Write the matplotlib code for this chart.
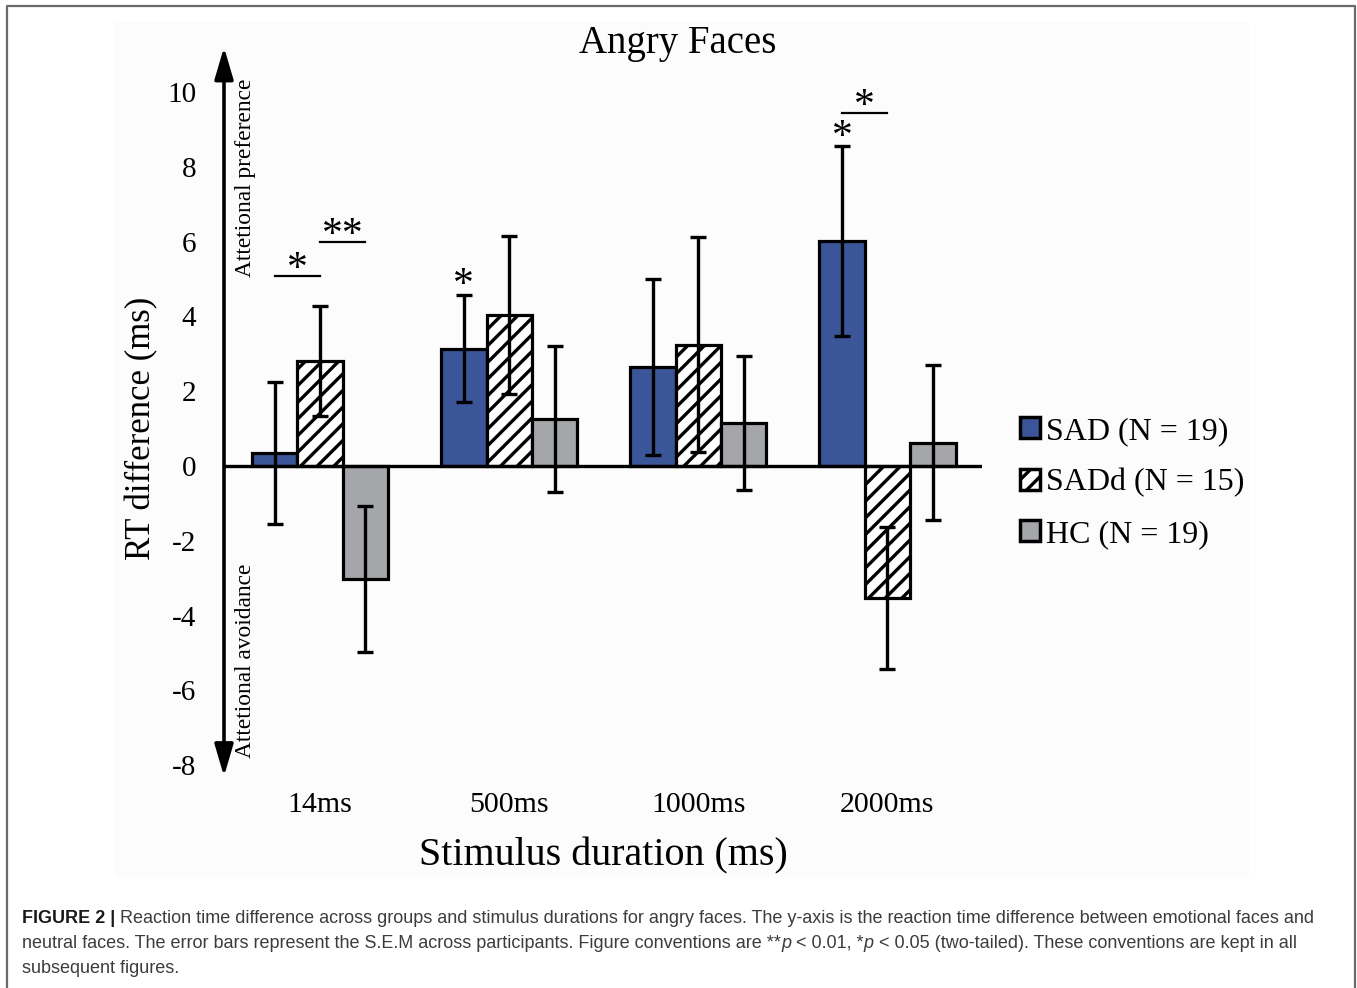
import matplotlib
matplotlib.use("Agg")
import matplotlib.pyplot as plt
from matplotlib.patches import Rectangle, Patch
from matplotlib.lines import Line2D
import numpy as np

# ---------------- data ----------------
durations = ["14ms", "500ms", "1000ms", "2000ms"]
groups = ["SAD (N = 19)", "SADd (N = 15)", "HC (N = 19)"]
sad_mean = [0.35, 3.13, 2.65, 6.02]
sad_sem = [1.90, 1.43, 2.35, 2.54]
sadd_mean = [2.80, 4.04, 3.24, -3.53]
sadd_sem = [1.47, 2.12, 2.87, 1.90]
hc_mean = [-3.02, 1.26, 1.15, 0.62]
hc_sem = [1.95, 1.96, 1.80, 2.07]
yticks = [-8, -6, -4, -2, 0, 2, 4, 6, 8, 10]
# significance brackets: (duration index, bar a, bar b, y level, label)
brackets = [(0, 0, 1, 5.08, "*"), (0, 1, 2, 5.99, "**"), (3, 0, 1, 9.44, "*")]
# single-bar stars: (duration index, bar, y level of star centre, label)
stars = [(1, 0, 5.10, "*"), (3, 0, 9.06, "*")]

caption_lines = [
    [("FIGURE 2 | ", "bold", "normal"),
     ("Reaction time difference across groups and stimulus durations for angry faces. "
      "The y-axis is the reaction time difference between emotional faces and", "normal", "normal")],
    [("neutral faces. The error bars represent the S.E.M across participants. Figure conventions are **", "normal", "normal"),
     ("p", "normal", "italic"), (" < 0.01, *", "normal", "normal"), ("p", "normal", "italic"),
     (" < 0.05 (two-tailed). These conventions are kept in all", "normal", "normal")],
    [("subsequent figures.", "normal", "normal")],
]

# ---------------- style ----------------
W, H = 1357, 988
plt.rcParams["hatch.linewidth"] = 2.4
SERIF = "Liberation Serif"
fig = plt.figure(figsize=(W / 100, H / 100), dpi=100)
fig.patch.set_facecolor("white")

def px(x, y):
    return x / W, 1 - y / H

# panel background
fig.patches.append(Rectangle(px(115, 877), (1249 - 115) / W, (877 - 22) / H,
                             transform=fig.transFigure, facecolor="#fcfcfc",
                             edgecolor="none", zorder=-10))
# outer border (open at bottom)
bx = [7 / W, 7 / W, 1355 / W, 1355 / W]
by = [0, 1 - 6 / H, 1 - 6 / H, 0]
fig.add_artist(Line2D(bx, by, transform=fig.transFigure, color="#6a6a6a", lw=1.6))

ymin, ymax = -8.3, 11.2
xmin, xmax = -0.508, 3.50
UNIT = 37.4
top_px = 466 - ymax * UNIT
bot_px = 466 - ymin * UNIT
ax = fig.add_axes([224 / W, 1 - bot_px / H, (982 - 224) / W, (bot_px - top_px) / H])
ax.patch.set_alpha(0)
for s in ax.spines.values():
    s.set_visible(False)
ax.set_xlim(xmin, xmax)
ax.set_ylim(ymin, ymax)

x = np.arange(len(durations))
bw = 0.24
offsets = [-bw, 0, bw]
means = [sad_mean, sadd_mean, hc_mean]
sems = [sad_sem, sadd_sem, hc_sem]
faces = ["#3b5599", "white", "#a5a6aa"]
hatches = [None, "//", None]
for i in range(3):
    ax.bar(x + offsets[i], means[i], bw, color=faces[i], edgecolor="black",
           linewidth=2.3, hatch=hatches[i], zorder=2)
    ax.errorbar(x + offsets[i], means[i], yerr=sems[i], fmt="none", ecolor="black",
                elinewidth=2.4, capsize=5.5, capthick=2.4, zorder=3)

ax.axhline(0, color="black", lw=2.4, zorder=4)
ax.annotate("", xy=(xmin, ymax), xytext=(xmin, ymin),
            arrowprops=dict(arrowstyle="<|-|>,head_length=0.75,head_width=0.22",
                            lw=2.6, color="black", mutation_scale=26,
                            shrinkA=0, shrinkB=0),
            annotation_clip=False, zorder=5)

ax.set_yticks(yticks)
ax.set_yticklabels([str(v) for v in yticks], fontfamily=SERIF, fontsize=21)
ax.set_xticks(x)
ax.set_xticklabels(durations, fontfamily=SERIF, fontsize=21.5)
ax.tick_params(axis="y", length=0, pad=20)
ax.tick_params(axis="x", length=0, pad=11)

ax.set_ylabel("RT difference (ms)", fontfamily=SERIF, fontsize=25, va="center")
ax.yaxis.set_label_coords((142 - 224) / 758, (bot_px - 428) / (bot_px - top_px))
ax.set_xlabel("Stimulus duration (ms)", fontfamily=SERIF, fontsize=28.8, va="center")
ax.xaxis.set_label_coords((603 - 224) / 758, (bot_px - 856) / (bot_px - top_px))

fig.text(678 / W, 1 - 43 / H, "Angry Faces", fontfamily=SERIF, fontsize=28,
         ha="center", va="center")

ax.text(xmin + 21 / 189, 7.70, "Attetional preference", rotation=90, fontfamily=SERIF,
        fontsize=16.8, ha="center", va="center")
ax.text(xmin + 21 / 189, -5.21, "Attetional avoidance", rotation=90, fontfamily=SERIF,
        fontsize=16.8, ha="center", va="center")

STAR_FS = 30
# asterisk glyph centre sits ~0.5 em above the baseline
star_drop = 0.50 * STAR_FS * 100 / 72 / UNIT
for g, a, b, yl, lab in brackets:
    xa, xb = g + offsets[a], g + offsets[b]
    ax.plot([xa, xb], [yl, yl], color="black", lw=1.6, zorder=5)
    ax.text((xa + xb) / 2, yl + 0.46 - star_drop, lab, fontfamily=SERIF, fontsize=STAR_FS,
            ha="center", va="baseline")
for g, b, yl, lab in stars:
    ax.text(g + offsets[b], yl - star_drop, lab, fontfamily=SERIF, fontsize=STAR_FS,
            ha="center", va="baseline")

handles = [Patch(facecolor=faces[i], edgecolor="black", linewidth=2.5, hatch=hatches[i])
           for i in range(3)]
leg = ax.legend(handles, groups, loc="center left", bbox_to_anchor=(1004 / W, 1 - 483 / H),
                bbox_transform=fig.transFigure, frameon=False, borderpad=0,
                handlelength=0.62, handleheight=0.62, handletextpad=0.2,
                labelspacing=0.70, prop=dict(family=SERIF, size=23))

# caption
fig.canvas.draw()
renderer = fig.canvas.get_renderer()

def seg_width(txt, weight, style, size):
    t1 = fig.text(0, 0, txt + "|", fontfamily="Liberation Sans", fontsize=size,
                  fontweight=weight, fontstyle=style)
    t2 = fig.text(0, 0, "|", fontfamily="Liberation Sans", fontsize=size,
                  fontweight=weight, fontstyle=style)
    w = t1.get_window_extent(renderer).width - t2.get_window_extent(renderer).width
    t1.remove(); t2.remove()
    return w

base = 12
total = sum(seg_width(t, w, s, base) for t, w, s in caption_lines[0])
csize = base * (1316 - 22) / total
ys = [918, 943, 968]
for line, yy in zip(caption_lines, ys):
    xx = 22
    for txt, wgt, sty in line:
        fig.text(xx / W, 1 - yy / H, txt, fontfamily="Liberation Sans", fontsize=csize,
                 fontweight=wgt, fontstyle=sty, color="#1a1a1a" if wgt == "bold" else "#3c3c3c",
                 ha="left", va="center")
        xx += seg_width(txt, wgt, sty, csize)

fig.savefig("out.png", dpi=100)
